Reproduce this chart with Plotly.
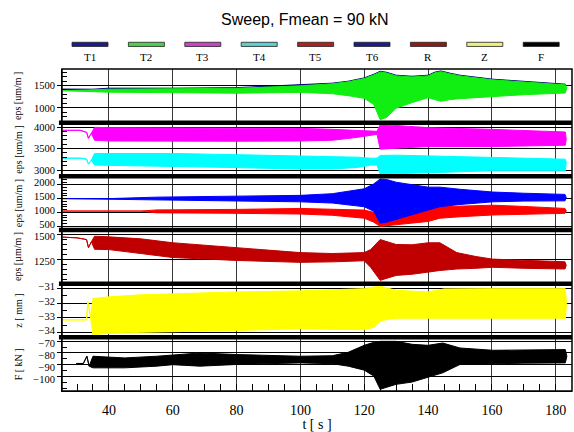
import plotly.graph_objects as go
from plotly.subplots import make_subplots

# ---------------------------------------------------------------------------
# Sweep test, Fmean = 90 kN.  Each channel is stored as time breakpoints [s]
# with the upper and lower envelope of the oscillating signal at those times.
# ---------------------------------------------------------------------------

# panel 1 : strain gauges T1 / T2  [um/m]
t_T1 = [25.5, 35, 40, 45, 50, 55, 60, 80, 100, 110, 115, 120, 123, 125, 127,
        130, 135, 140, 142, 144, 147, 150, 160.3, 170, 183]
T1_hi = [1416, 1416, 1440, 1440, 1435, 1430, 1440, 1452, 1508, 1552, 1596, 1670,
         1752, 1818, 1796, 1730, 1707, 1730, 1796, 1825, 1774, 1730, 1641, 1597, 1530]
T1_lo = [1416, 1416, 1400, 1400, 1400, 1400, 1400, 1400, 1420, 1430, 1440, 1450,
         1450, 1450, 1450, 1450, 1450, 1450, 1450, 1450, 1450, 1450, 1450, 1440, 1430]

t_T2 = [25.5, 40, 60, 80, 100, 110, 115, 120, 123, 125, 127, 130, 135, 140, 142,
        144, 147, 150, 160.3, 170, 183, 183.5]
T2_hi = [1383, 1416, 1427, 1438, 1493, 1538, 1582, 1655, 1737, 1803, 1781, 1715,
         1692, 1715, 1781, 1810, 1759, 1715, 1626, 1582, 1515, 1449]
T2_lo = [1383, 1350, 1339, 1327, 1345, 1316, 1272, 1212, 1073, 735, 786, 991,
         1117, 1228, 1184, 1146, 1184, 1206, 1257, 1294, 1332, 1449]

# panel 2 : strain gauges T3 / T4  [um/m]
t_T34 = [25.5, 31, 33, 33.6, 34.5, 35.5, 40, 60, 80, 100, 110, 118, 122, 124, 125,
         127, 130, 140, 160, 183, 183.3]
T3_hi = [3924, 3924, 3878, 3739, 3855, 3993, 3986, 3982, 3970, 3970, 3947, 3924,
         3901, 3901, 4062, 4051, 4039, 3986, 3947, 3885, 3716]
T3_lo = [3924, 3924, 3878, 3739, 3855, 3693, 3677, 3670, 3670, 3677, 3693, 3762,
         3808, 3831, 3485, 3485, 3508, 3547, 3547, 3577, 3716]
T4_hi = [3277, 3277, 3254, 3139, 3231, 3386, 3386, 3386, 3358, 3330, 3323, 3300,
         3277, 3277, 3340, 3347, 3347, 3330, 3293, 3254, 3185]
T4_lo = [3277, 3277, 3254, 3139, 3231, 3116, 3104, 3086, 3058, 3023, 3023, 3063,
         3116, 3116, 2901, 2908, 2919, 2947, 2984, 2984, 3185]

# panel 3 : strain gauges T5 / T6  [um/m]
t_T5 = [25.5, 50, 55, 60, 80, 100, 110, 120, 123, 125, 127, 130, 135, 140, 143.7,
        150, 160.3, 170, 182.9, 183.3]
T5_hi = [1045, 1045, 1088, 1088, 1106, 1141, 1124, 1081, 999, 857, 857, 857, 999,
         1081, 1202, 1230, 1259, 1213, 1141, 1052]
T5_lo = [1045, 1045, 981, 981, 963, 938, 892, 785, 643, 490, 500, 547, 607, 668,
         785, 839, 903, 928, 963, 1052]

t_T6 = [25.5, 40, 55, 70, 85, 100, 110, 120, 123, 125, 127, 130, 140, 143.7, 150,
        160.3, 170, 182.9, 183.3]
T6_hi = [1497, 1497, 1551, 1569, 1587, 1615, 1676, 1854, 2032, 2210, 2192, 2092,
         1914, 1914, 1836, 1736, 1693, 1651, 1533]
T6_lo = [1497, 1497, 1444, 1426, 1408, 1380, 1337, 1202, 1035, 607, 643, 725,
         1081, 1202, 1284, 1380, 1408, 1416, 1533]

# panel 4 : strain gauge R  [um/m]
t_R = [25.5, 30, 33, 33.6, 34.5, 35.5, 40, 50, 60, 80, 100, 110, 120, 122, 125,
       130, 135, 140, 143.7, 149, 155, 160.3, 170, 182.9, 183.3]
R_hi = [1475, 1468, 1451, 1370, 1429, 1484, 1478, 1458, 1419, 1370, 1321, 1312,
        1321, 1351, 1451, 1402, 1399, 1419, 1419, 1321, 1282, 1256, 1243, 1230, 1194]
R_lo = [1475, 1468, 1451, 1370, 1429, 1354, 1351, 1312, 1272, 1243, 1224, 1229,
        1240, 1175, 1045, 1094, 1106, 1126, 1143, 1158, 1165, 1175, 1165, 1158, 1194]

# panel 5 : displacement z  [mm]
t_Z = [25.5, 33, 33.4, 34.2, 35, 40, 50, 60, 80, 100, 110, 120, 123, 125, 127,
       130, 140, 145, 160, 183, 183.4]
Z_hi = [-33.13, -33.13, -31.89, -32.90, -31.67, -31.56, -31.42, -31.34, -31.22,
        -31.15, -31.05, -31.00, -30.89, -30.82, -30.95, -31.11, -31.22, -31.02,
        -31.00, -31.00, -32.03]
Z_lo = [-33.13, -33.13, -31.89, -32.90, -34.14, -34.05, -33.98, -33.91, -33.85,
        -33.74, -33.78, -33.80, -33.64, -33.24, -33.11, -33.02, -33.02, -33.04,
        -33.02, -33.02, -32.03]

# panel 6 : actuator force F  [kN]
t_F = [29.8, 32, 33.1, 33.8, 35, 45, 55, 60, 68.5, 80, 100, 110, 115, 120, 123,
       125, 130, 135, 140, 144.6, 150, 160.3, 170, 183, 183.5]
F_hi = [-88.78, -88.78, -82.72, -91.02, -82.72, -84.13, -82.72, -81.89, -79.97,
        -81.30, -82.72, -82.30, -79.39, -73.58, -71.09, -70.26, -70.26, -72.75,
        -73.58, -71.67, -75.82, -77.73, -77.32, -77.15, -82.72]
F_lo = [-88.78, -88.78, -82.72, -91.02, -92.43, -92.43, -91.02, -89.78, -91.02,
        -89.61, -88.28, -88.95, -91.02, -94.34, -99.33, -110.37, -106.22, -104.31,
        -100.57, -96.59, -89.61, -88.78, -88.53, -88.28, -82.72]

# channel name, colour, panel row, time, upper, lower
channels = [
    ("T1", "#00007a", 1, t_T1, T1_hi, T1_lo),
    ("T2", "#11ee11", 1, t_T2, T2_hi, T2_lo),
    ("T3", "#ff00ff", 2, t_T34, T3_hi, T3_lo),
    ("T4", "#00ffff", 2, t_T34, T4_hi, T4_lo),
    ("T5", "#ff0000", 3, t_T5, T5_hi, T5_lo),
    ("T6", "#0000ff", 3, t_T6, T6_hi, T6_lo),
    ("R", "#c00000", 4, t_R, R_hi, R_lo),
    ("Z", "#ffff00", 5, t_Z, Z_hi, Z_lo),
    ("F", "#000000", 6, t_F, F_hi, F_lo),
]
legend_colors = ["#1c1c8c", "#4fcf4f", "#cc44cc", "#5fcfcf", "#b02020",
                 "#1c1c8c", "#8e1a1a", "#eeee80", "#000000"]

# y-axis setup per panel: range, tick values, minor step, label nudge [px, down], title
panels = [
    ([668, 1869], [1000, 1500], 100, 0, "eps [um/m ]"),
    ([2855, 4102], [3000, 3500, 4000], 100, 0, "eps [um/m ]"),
    ([358, 2306], [500, 1000, 1500, 2000], 100, -2, "eps [um/m ]"),
    ([1012, 1546], [1250, 1500], 50, 2, "eps [µm/m ]"),
    ([-34.32, -30.66], [-34, -33, -32, -31], 0.5, -2, "z [ mm ]"),
    ([-111.8, -66.9], [-100, -90, -80, -70], 5, 2, "F [ kN ]"),
]
x_range = [25.3, 185.1]
x_ticks = [40, 60, 80, 100, 120, 140, 160, 180]

SERIF = "Liberation Serif"
SANS = "Liberation Sans"

fig = make_subplots(rows=6, cols=1, shared_xaxes=True, vertical_spacing=0)

for name, color, row, t, hi, lo in channels:
    fig.add_trace(
        go.Scatter(
            x=list(t) + list(t)[::-1],
            y=list(hi) + list(lo)[::-1],
            mode="lines",
            fill="toself",
            fillcolor=color,
            line=dict(color=color, width=1),
            name=name,
            showlegend=False,
            hoverinfo="skip",
        ),
        row=row, col=1,
    )

for i, (rng, tv, mdt, nudge, title) in enumerate(panels, start=1):
    fig.update_yaxes(
        range=rng, tickvals=tv,
        showgrid=True, gridcolor="#000000", gridwidth=1,
        zeroline=False,
        showline=True, linecolor="#000000", linewidth=1,
        ticks="outside", ticklen=4, tickcolor="#000000",
        minor=dict(dtick=mdt, tick0=0, ticks="inside", ticklen=5,
                   tickcolor="#000000", showgrid=False),
        ticklabelshift=nudge,
        tickfont=dict(family=SERIF, size=10.5, color="#000000"),
        row=i, col=1,
    )
    fig.add_annotation(
        text=title, textangle=-90, xref="paper", yref="paper",
        x=-0.086, y=1 - (i - 0.5) / 6, xanchor="center", yanchor="middle",
        showarrow=False,
        font=dict(family=SERIF, size=10, color="#000000"),
    )

fig.update_xaxes(
    range=x_range, tickvals=x_ticks,
    showgrid=True, gridcolor="#3a3a3a", gridwidth=1,
    zeroline=False, showline=False,
)
fig.update_xaxes(
    ticks="inside", ticklen=7, tickcolor="#000000",
    minor=dict(dtick=5, tick0=0, ticks="inside", ticklen=7,
               tickcolor="#000000", showgrid=False),
    showticklabels=True, ticklabelstandoff=6,
    tickfont=dict(family=SERIF, size=14, color="#000000"),
    title=dict(text="t [ s ]", font=dict(family=SERIF, size=14, color="#000000"),
               standoff=2),
    showline=True, linecolor="#000000", linewidth=1,
    row=6, col=1,
)

# frame and heavy separators between panels
shapes = [dict(type="rect", xref="paper", yref="paper", x0=0, x1=1, y0=0, y1=1,
               line=dict(color="#000000", width=1.5))]
for k in range(1, 6):
    shapes.append(dict(type="line", xref="paper", yref="paper",
                       x0=-0.006, x1=1, y0=k / 6, y1=k / 6,
                       line=dict(color="#000000", width=4.5)))

# legend row: swatch above each channel label
lx0 = (90 - 62) / 510
ldx = 56.4 / 510
sw = 18 / 510
for j, (name, *_rest) in enumerate(channels):
    cx = lx0 + j * ldx
    shapes.append(dict(type="rect", xref="paper", yref="paper",
                       x0=cx - sw, x1=cx + sw, y0=1.070, y1=1.083,
                       fillcolor=legend_colors[j],
                       line=dict(color="#222222", width=0.8)))
    fig.add_annotation(text=name, xref="paper", yref="paper", x=cx, y=1.037,
                       xanchor="center", yanchor="middle", showarrow=False,
                       font=dict(family=SERIF, size=11, color="#000000"))

fig.add_annotation(text="Sweep, Fmean = 90 kN", xref="paper", yref="paper",
                   x=(305 - 62) / 510, y=1.153, xanchor="center", yanchor="middle",
                   showarrow=False,
                   font=dict(family=SANS, size=16, color="#000000"))

fig.update_layout(
    width=574, height=432,
    margin=dict(l=62, r=2, t=69, b=37),
    paper_bgcolor="#ffffff", plot_bgcolor="#ffffff",
    shapes=shapes,
    showlegend=False,
)

fig.write_html("out.html", config={"displayModeBar": False})
